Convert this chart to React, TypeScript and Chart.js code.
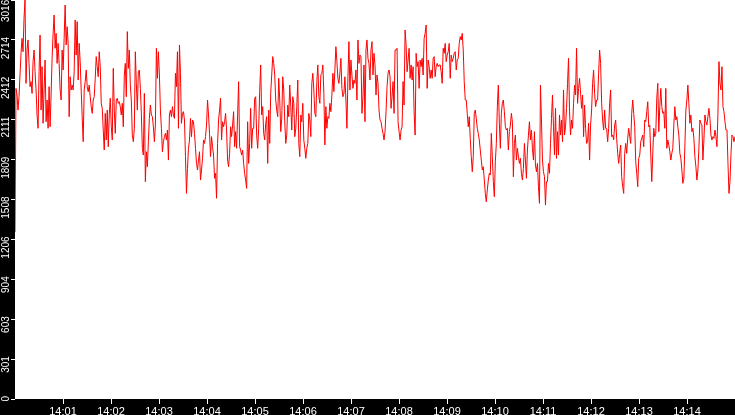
import { useEffect, useRef } from 'react'
import { Chart, registerables } from 'chart.js'

Chart.register(...registerables)

// Window shown: 14:00:00 – 14:15:00, samples evenly spaced
const WINDOW_SEC = 900
const Y_MAX = 3016

const xTickLabels = [
  '14:01', '14:02', '14:03', '14:04', '14:05', '14:06', '14:07',
  '14:08', '14:09', '14:10', '14:11', '14:12', '14:13', '14:14',
]

const yTickValues = [0, 301.6, 603.2, 904.8, 1206.4, 1508, 1809.6, 2111.2, 2412.8, 2714.4, 3016]

// values, in time order
const from1400 = [
  1262, 2348, 2298, 2184, 2285, 2449, 2613, 2726, 2625, 2877, 3016, 2386, 2638, 2714, 2537, 2361,
  2399, 2310, 2550, 2638, 2474, 2336, 2147, 2046, 2474, 2751, 2184, 2512, 2084, 2336, 2562, 2096,
  2260, 2046, 2361, 2058, 2298, 2575, 2764, 2903, 2651, 2764, 2537, 2688, 2537, 2336, 2260, 2638,
  2487, 2726, 2978, 2676, 2814, 2688, 2134, 2436, 2336, 2373, 2336, 2474, 2865, 2600, 2852, 2411,
  2688, 2550, 2336, 2134, 1945, 2336, 2399, 2487, 2361, 2323, 2373, 2285, 2210, 2159, 2260, 2285,
  2424, 2588, 2512, 2436, 2625, 2512, 2235, 2197, 2033, 1882, 2159, 1958, 2184, 1907, 2147, 2273,
  2058, 1958, 2499, 2184, 2008, 2260, 2273, 2235, 2247, 2210, 2147, 2235, 2058, 2449, 2537, 2285,
  2777, 2499, 2638, 2373, 2260, 1995, 1945, 2046,
]

const from1402 = [
  2625, 2386, 2184, 2474, 2487, 2348, 2159, 1895, 1844, 2310, 1643, 1869, 1756, 1945, 2121, 2222,
  2147, 2134, 2058, 1945, 2071, 2651, 2424, 2625, 2449, 2184, 2046, 1869, 1945, 1983, 2008, 1958,
  2033, 1806, 2147, 2184, 2134, 2210, 2147, 2121, 2462, 2361, 2625, 2046, 2676, 2462, 2084, 2159,
  2172, 2109, 1832, 1554, 1743, 1895, 1958, 2121, 1983, 2109, 2096, 2008, 1895, 1781, 1731, 1806,
  1869, 1655, 1731, 1819, 1958, 1932, 1983, 2071, 2260, 2147, 2008, 1832, 1983, 1907, 1844, 1668,
  1706, 1517, 1932, 2109, 2184, 2273, 1958, 2096, 2058, 2096, 2159, 2033, 1806, 1756, 1857, 2058,
  1983, 2071, 2172, 1907, 2021, 1895, 2147, 2399, 1907, 1882, 1844, 1882, 1781, 1706, 1655, 1592,
  2096, 1781, 1932,
]

const from1405 = [
  2197, 1895, 2046, 2046, 2273, 2285, 1995, 1895, 2046, 2323, 2525, 2147, 2210, 2008, 1958, 2084,
  2134, 1781, 2184, 1932, 2310, 2449, 2588, 2537, 2449, 2260, 2184, 2134, 2424, 2260, 2021, 2121,
  2436, 2336, 2096, 1932, 1995, 2222, 2134, 2373, 2210, 2033, 2285, 2235, 1983, 2046, 2210, 2411,
  1932, 1832, 2147, 2096, 2235, 1958, 1895, 1819, 1895, 1932, 2159, 2109, 1983, 2386, 2462, 2336,
  2159, 2134, 2399, 2525, 2285, 2235, 2449, 2462, 2525, 2310, 1920, 2210, 2046, 2134, 2121, 2235,
  2172, 2298, 2462, 2323, 2487, 2663, 2550, 2424, 2386, 2462, 2575, 2348, 2285, 2310, 2436, 2260,
  2046, 2436, 2701, 2336, 2562, 2449, 2348, 2411, 2386, 2487, 2260, 2714, 2537, 2600, 2588, 2159,
  2285, 2525, 2096, 2638, 2714, 2575, 2537, 2411,
]

const from1407 = [
  2638, 2701, 2449, 2613, 2525, 2298, 2449, 2386, 2184, 2109, 2096, 2046, 2008, 1958, 2021, 2172,
  2361, 2462, 2487, 2436, 2197, 2285, 2399, 2159, 2638, 2638, 2651, 2096, 2021, 1958, 2033, 2058,
  2399, 2222, 2789, 2676, 2474, 2562, 2651, 2424, 2525, 2411, 2512, 2172, 1995, 2613, 2512, 2550,
  2348, 2562, 2512, 2575, 2449, 2726, 2764, 2827, 2348, 2562, 2512, 2424, 2487, 2424, 2575, 2588,
  2436, 2512, 2537, 2512, 2525, 2525, 2474, 2386, 2651, 2613, 2688, 2550, 2600, 2625, 2688, 2424,
  2600, 2550, 2575, 2613, 2625, 2487, 2562, 2575, 2688, 2739, 2714, 2764, 2638, 2399, 2260, 2260,
  2159, 2058, 2134, 1970, 1832, 1718, 1832, 2159, 2184, 2121, 2046, 2008, 1958, 1882, 1806, 1731,
  1756, 1655, 1554, 1491, 1580, 1655, 1706, 1693,
]

const from1410 = [
  2008, 1832, 1643, 1529, 1794, 1932, 2210, 2373, 2084, 1895, 2159, 2235, 2260, 2172, 2058, 2033,
  2046, 1882, 2021, 2071, 2159, 2096, 1680, 1932, 1995, 1806, 1895, 1832, 1781, 1819, 1706, 1655,
  1743, 1932, 1806, 1668, 1882, 1995, 2096, 1958, 2033, 1895, 1806, 2021, 1769, 1718, 1781, 1605,
  1479, 2373, 2109, 1806, 1718, 1680, 1466, 1643, 1643, 1781, 1706, 1932, 2121, 2298, 2058, 1844,
  2197, 1819, 2021, 1844, 2147, 1995, 2109, 1945, 2336, 1995, 2058, 2197, 2386, 2575, 2172, 1995,
  2109, 2046, 2235, 2373, 2298, 2651, 2235, 2348, 2424, 2310, 2197, 2298, 1983, 2222, 2046, 1932,
  1945, 2084, 1806, 2071, 2184, 2386, 2487, 2310, 2210, 2260, 2260, 2462, 2638, 2537, 2235, 2109,
  2033, 2184, 2046, 2046, 1945, 2046, 2235,
]

const from1412 = [
  2336, 1983, 1995, 1958, 2071, 2109, 1970, 1857, 1781, 1857, 1920, 1680, 1605, 1554, 1857, 1932,
  1857, 1970, 2046, 1983, 1932, 2159, 2260, 2159, 2058, 1794, 1706, 1605, 1819, 1844, 1945, 1970,
  1995, 1907, 2109, 2096, 2172, 2247, 2058, 2071, 1844, 1643, 1857, 2046, 1983, 2008, 2273, 2386,
  2021, 2210, 2348, 2210, 2159, 2172, 2046, 2348, 1895, 1958, 1920, 1869, 1806, 1857, 1895, 2071,
  2210, 2109, 2134, 2058, 1995, 1857, 1819, 1731, 1630, 1668, 1907, 2184, 2260, 2373, 2235, 2084,
  2147, 2021, 2046, 1970, 1832, 1756, 1655, 1731, 1895, 2109, 2084, 2071, 1806, 1958, 2147, 2096,
  2071, 2134, 2197, 2121, 1995, 1958, 1983, 1970, 2033, 1983, 1907, 2159, 2550, 2386, 2336, 2512,
  2210, 2172, 2096, 2033, 2033, 1781, 1554, 1643, 1857, 1995, 1983, 1945, 1983,
]

const samples = [...from1400, ...from1402, ...from1405, ...from1407, ...from1410, ...from1412]

// black bands behind both axes
const axisBands = {
  id: 'axisBands',
  beforeDraw(chart: Chart) {
    const { ctx, chartArea, width, height } = chart
    ctx.save()
    ctx.fillStyle = '#ffffff'
    ctx.fillRect(0, 0, width, height)
    ctx.fillStyle = '#000000'
    ctx.fillRect(0, 0, chartArea.left, height)
    ctx.fillRect(0, chartArea.bottom, width, height - chartArea.bottom)
    ctx.restore()
  },
}

export default function App() {
  const canvasRef = useRef<HTMLCanvasElement | null>(null)
  const chartRef = useRef<Chart | null>(null)

  useEffect(() => {
    document.body.style.margin = '0'
    const ctx = canvasRef.current?.getContext('2d')
    if (!ctx) return

    const step = WINDOW_SEC / (samples.length - 1)

    chartRef.current = new Chart(ctx, {
      type: 'line',
      data: {
        datasets: [
          {
            data: samples.map((v, i) => ({ x: i * step, y: v })),
            borderColor: '#ff0000',
            borderWidth: 1,
            pointRadius: 0,
            tension: 0,
            fill: false,
          },
        ],
      },
      options: {
        animation: false,
        responsive: false,
        devicePixelRatio: 1,
        layout: { padding: 0 },
        plugins: {
          legend: { display: false },
          tooltip: { enabled: false },
        },
        scales: {
          x: {
            type: 'linear',
            min: 0,
            max: WINDOW_SEC,
            afterBuildTicks: (scale: any) => {
              scale.ticks = xTickLabels.map((_, i) => ({ value: (i + 1) * 60 }))
            },
            afterFit: (scale: any) => {
              scale.height = 16
              scale.paddingLeft = 0
              scale.paddingRight = 0
            },
            border: { display: false },
            grid: { drawOnChartArea: false, drawTicks: true, tickLength: 5, tickColor: '#ffffff', tickWidth: 1 },
            ticks: {
              color: '#ffffff',
              font: { family: 'Liberation Sans', size: 11 },
              padding: 1,
              autoSkip: false,
              maxRotation: 0,
              callback: (v: any) => xTickLabels[Math.round(Number(v) / 60) - 1] ?? '',
            },
          },
          y: {
            min: 0,
            max: Y_MAX,
            afterBuildTicks: (scale: any) => {
              scale.ticks = yTickValues.map((v) => ({ value: v }))
            },
            afterFit: (scale: any) => {
              scale.width = 15
              scale.paddingTop = 0
              scale.paddingBottom = 0
            },
            border: { display: false },
            grid: { drawOnChartArea: false, drawTicks: true, tickLength: 4, tickColor: '#ffffff', tickWidth: 1 },
            ticks: {
              color: '#ffffff',
              font: { family: 'Liberation Sans', size: 10 },
              minRotation: 90,
              maxRotation: 90,
              padding: 5,
              labelOffset: -3,
              // trailing space keeps the top label inside the canvas
              callback: (v: any) => {
                const label = String(Math.floor(Number(v) + 1e-6))
                return Number(v) >= Y_MAX ? label + ' ' : label
              },
            },
          },
        },
      },
      plugins: [axisBands],
    })

    return () => {
      chartRef.current?.destroy()
      chartRef.current = null
    }
  }, [])

  return (
    <div style={{ width: 735, height: 415 }}>
      <canvas ref={canvasRef} width={735} height={415} />
    </div>
  )
}
